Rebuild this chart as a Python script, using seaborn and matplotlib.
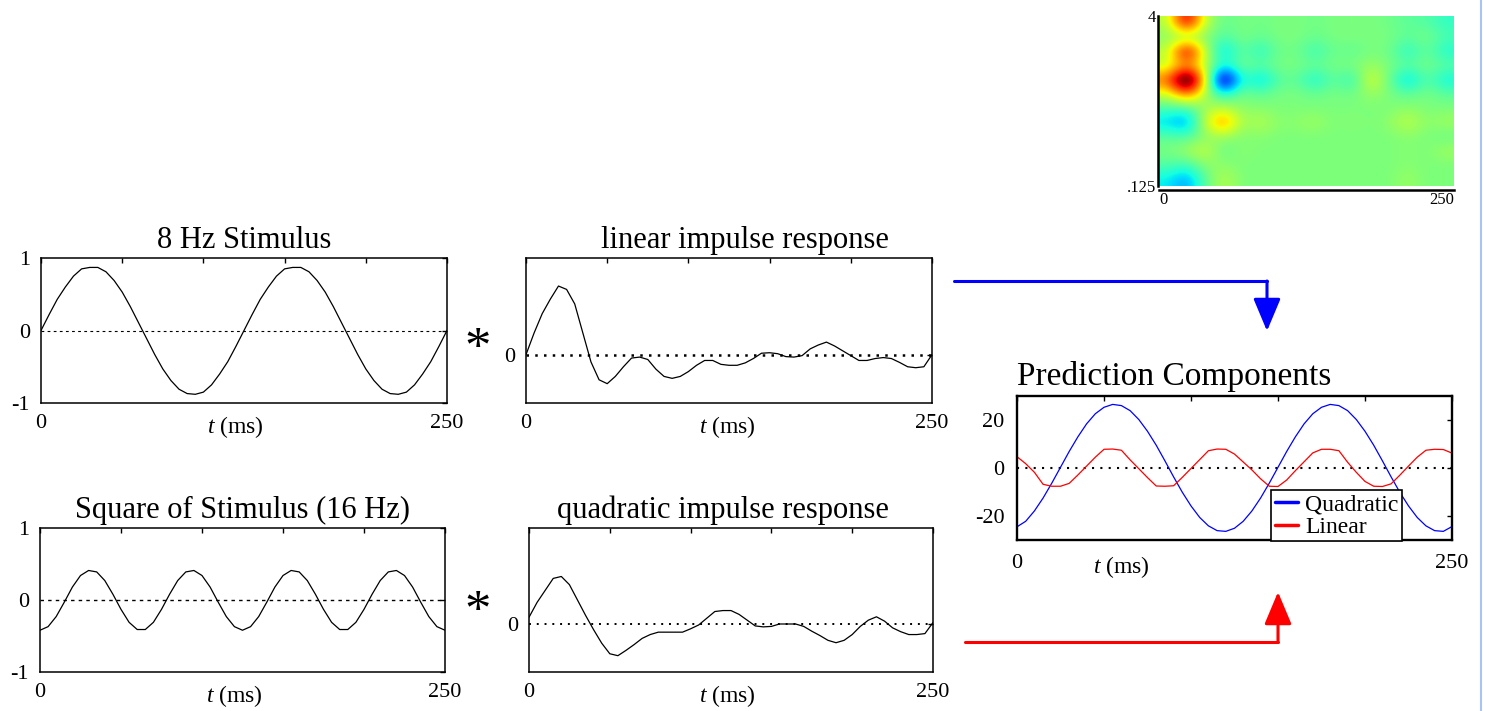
import numpy as np
import matplotlib
matplotlib.use("Agg")
import matplotlib.pyplot as plt
import seaborn as sns
from matplotlib.patches import FancyArrowPatch
from matplotlib.lines import Line2D

# ---------------- data ----------------
t_ms = np.arange(0, 251, 5)

stim_8hz = [0.00, 0.22, 0.43, 0.60, 0.75, 0.85, 0.87, 0.87, 0.81, 0.69, 0.53, 0.33, 0.11,
            -0.11, -0.33, -0.53, -0.69, -0.81, -0.87, -0.88, -0.85, -0.75, -0.60, -0.43, -0.22,
            0.00, 0.22, 0.43, 0.60, 0.75, 0.85, 0.87, 0.87, 0.81, 0.69, 0.53, 0.33, 0.11,
            -0.11, -0.33, -0.53, -0.69, -0.81, -0.87, -0.88, -0.85, -0.75, -0.60, -0.43, -0.22, 0.00]

stim_sq = [-0.42, -0.37, -0.23, -0.03, 0.18, 0.34, 0.41, 0.39, 0.27, 0.08, -0.13, -0.31, -0.41,
           -0.41, -0.31, -0.13, 0.08, 0.27, 0.39, 0.41, 0.34, 0.18, -0.03, -0.23, -0.37,
           -0.42, -0.37, -0.23, -0.03, 0.18, 0.34, 0.41, 0.39, 0.27, 0.08, -0.13, -0.31, -0.41,
           -0.41, -0.31, -0.13, 0.08, 0.27, 0.39, 0.41, 0.34, 0.18, -0.03, -0.23, -0.37, -0.42]

lin_irf = [0.00, 0.45, 0.85, 1.15, 1.42, 1.35, 1.05, 0.45, -0.15, -0.52, -0.60, -0.45, -0.25,
           -0.07, -0.05, -0.10, -0.30, -0.45, -0.49, -0.45, -0.35, -0.22, -0.12, -0.12, -0.20,
           -0.22, -0.22, -0.17, -0.08, 0.03, 0.04, 0.02, -0.04, -0.05, -0.02, 0.12, 0.20, 0.26,
           0.18, 0.08, -0.02, -0.12, -0.12, -0.08, -0.06, -0.08, -0.16, -0.25, -0.27, -0.25, 0.00]

quad_irf = [0.14, 0.45, 0.70, 0.95, 0.99, 0.82, 0.50, 0.18, -0.12, -0.40, -0.62, -0.66, -0.55,
            -0.43, -0.30, -0.22, -0.17, -0.17, -0.17, -0.17, -0.10, -0.02, 0.12, 0.26, 0.28,
            0.28, 0.20, 0.08, -0.04, -0.06, -0.05, 0.00, 0.00, 0.00, -0.05, -0.15, -0.24, -0.34,
            -0.39, -0.34, -0.22, -0.05, 0.08, 0.15, 0.06, -0.08, -0.16, -0.22, -0.22, -0.20, 0.03]

pred_quadratic = [-24.5, -22.2, -17.9, -12.5, -6.3, 0.3, 6.9, 13.0, 18.4, 22.6, 25.3, 26.5, 26.0,
                  23.9, 20.2, 15.3, 9.5, 3.0, -3.7, -10.1, -15.8, -20.6, -24.1, -26.1, -26.4,
                  -25.1, -22.2, -17.9, -12.5, -6.3, 0.3, 6.9, 13.0, 18.4, 22.6, 25.3, 26.5, 26.0,
                  23.9, 20.2, 15.3, 9.5, 3.0, -3.7, -10.1, -15.8, -20.6, -24.1, -26.1, -26.4, -24.4]

pred_linear = [4.7, 1.8, -1.8, -6.8, -7.6, -7.6, -6.4, -2.9, 0.8, 4.5,
               7.8, 7.9, 7.4, 3.4, -0.3, -4.0, -7.5, -7.6, -7.4, -3.9,
               -0.2, 3.5, 7.2, 7.9, 7.8, 5.8, 2.5, -0.8, -4.5, -7.6,
               -7.7, -5.0, -1.1, 2.6, 6.3, 7.8, 7.8, 7.2, 2.4, -1.8,
               -5.6, -7.6, -7.7, -6.6, -3.0, 0.8, 4.5, 7.4, 7.8, 7.7, 6.2]

# kernel map (12 rows: top = 4, bottom = .125 ; 16 columns span 0..250 ms)
kernel_map = np.array([
    [0.08, 0.65, 0.10, -0.04, 0.00, -0.02, 0.00, 0.00, -0.02, 0.00, 0.00, 0.00, -0.02, -0.05, -0.06, -0.12],
    [0.02, 0.00, 0.02, -0.08, 0.00, -0.04, 0.00, 0.00, -0.03, 0.00, 0.00, 0.00, 0.00, -0.05, 0.00, -0.08],
    [0.10, 0.70, 0.12, -0.25, -0.03, -0.15, -0.02, -0.02, -0.12, -0.02, -0.05, 0.00, -0.02, -0.15, -0.03, -0.15],
    [0.10, 0.30, 0.10, -0.15, 0.00, -0.05, 0.00, 0.00, -0.03, 0.00, 0.00, 0.05, 0.00, -0.05, 0.00, -0.05],
    [0.40, 1.00, 0.25, -0.80, -0.10, -0.25, -0.06, -0.05, -0.18, -0.03, -0.15, 0.18, -0.03, -0.25, -0.05, -0.18],
    [0.12, 0.40, 0.08, -0.15, 0.00, -0.05, 0.00, 0.00, -0.03, 0.00, -0.02, 0.05, 0.00, -0.05, 0.00, -0.05],
    [-0.08, -0.10, 0.05, 0.10, 0.02, 0.02, 0.00, 0.00, 0.00, 0.00, 0.00, 0.00, 0.00, 0.03, 0.00, 0.00],
    [-0.22, -0.32, 0.12, 0.40, 0.05, 0.10, 0.02, 0.03, 0.06, 0.00, 0.02, 0.00, 0.03, 0.12, 0.02, 0.06],
    [-0.05, -0.08, 0.02, 0.05, 0.00, 0.02, 0.00, 0.00, 0.00, 0.00, 0.00, 0.00, 0.00, 0.02, 0.00, -0.03],
    [0.00, 0.06, 0.14, -0.05, 0.03, 0.00, 0.00, 0.00, 0.00, 0.00, 0.00, 0.00, 0.00, 0.02, 0.00, 0.06],
    [-0.06, -0.10, 0.02, 0.03, 0.00, 0.00, 0.00, 0.00, 0.00, 0.00, 0.00, 0.00, 0.00, 0.02, 0.00, 0.00],
    [-0.18, -0.30, -0.05, 0.10, 0.00, 0.00, 0.00, 0.00, 0.00, 0.00, 0.00, 0.00, 0.00, 0.05, 0.00, 0.00],
])

x_ticks = [0, 50, 100, 150, 200, 250]
x_ticklabels = ["0", "", "", "", "", "250"]
map_ylabels = [".125", "4"]
map_xlabels = ["0", "250"]

# ---------------- styling ----------------
sns.set_style("white")
plt.rcParams["font.family"] = ["Liberation Serif", "DejaVu Serif"]
plt.rcParams["mathtext.fontset"] = "custom"
plt.rcParams["mathtext.it"] = "Liberation Serif:italic"
plt.rcParams["mathtext.rm"] = "Liberation Serif"
for key in ["text.color", "axes.labelcolor", "xtick.color", "ytick.color",
            "xtick.labelcolor", "ytick.labelcolor", "axes.edgecolor"]:
    plt.rcParams[key] = "black"

W, H = 1487, 711
fig = plt.figure(figsize=(W / 100, H / 100), dpi=100)


def rect(x0, y0, x1, y1):
    return [x0 / W, 1 - y1 / H, (x1 - x0) / W, (y1 - y0) / H]


def fpt(x, y):
    return (x / W, 1 - y / H)


def panel(r, frame_lw=1.1):
    ax = fig.add_axes(rect(*r))
    for s in ax.spines.values():
        s.set_visible(True)
        s.set_color("k")
        s.set_linewidth(frame_lw)
    ax.set_xlim(0, 250)
    ax.set_xticks(x_ticks)
    ax.set_xticklabels(x_ticklabels)
    ax.tick_params(direction="in", top=True, right=True, length=3.6, width=1.0,
                   labelsize=16, colors="k")
    ax.tick_params(axis="y", pad=8)
    ax.tick_params(axis="x", pad=8)
    ax.set_ylabel("")
    return ax


# Panel 1: 8 Hz stimulus
ax1 = panel((41, 258, 447, 403))
sns.lineplot(x=t_ms, y=stim_8hz, ax=ax1, color="k", linewidth=0.9)
ax1.axhline(0, color="k", lw=0.8, ls=(0, (2.5, 3)))
ax1.set_ylim(-1, 1)
ax1.set_yticks([-1, 0, 1])
ax1.set_yticklabels(["-1", "0", "1"])
ax1.set_title("8 Hz Stimulus", fontsize=22, pad=7)
ax1.set_xlabel("$t$ (ms)", fontsize=17)
ax1.xaxis.set_label_coords(0.48, -0.075)

# Panel 2: linear impulse response
ax2 = panel((526, 258, 932, 403))
sns.lineplot(x=t_ms, y=lin_irf, ax=ax2, color="k", linewidth=0.9)
ax2.axhline(0, color="k", lw=1.8, ls=(0, (1, 2.5)))
ax2.set_ylim(-1, 2)
ax2.set_yticks([0])
ax2.set_yticklabels(["0"])
ax2.set_title("linear impulse response", fontsize=22, pad=7)
ax2.title.set_x(0.539)
ax2.set_xlabel("$t$ (ms)", fontsize=17)
ax2.xaxis.set_label_coords(0.495, -0.075)

# Panel 3: square of stimulus
ax3 = panel((40, 528, 445, 672))
sns.lineplot(x=t_ms, y=stim_sq, ax=ax3, color="k", linewidth=0.9)
ax3.axhline(0, color="k", lw=1.0, ls=(0, (2.5, 3)))
ax3.set_ylim(-1, 1)
ax3.set_yticks([-1, 0, 1])
ax3.set_yticklabels(["-1", "0", "1"])
ax3.set_title("Square of Stimulus (16 Hz)", fontsize=22, pad=7)
ax3.set_xlabel("$t$ (ms)", fontsize=17)
ax3.xaxis.set_label_coords(0.48, -0.075)

# Panel 4: quadratic impulse response
ax4 = panel((529, 528, 933, 672))
sns.lineplot(x=t_ms, y=quad_irf, ax=ax4, color="k", linewidth=0.9)
ax4.axhline(0, color="k", lw=1.4, ls=(0, (1, 3)))
ax4.set_ylim(-1, 2)
ax4.set_yticks([0])
ax4.set_yticklabels(["0"])
ax4.set_title("quadratic impulse response", fontsize=22, pad=7)
ax4.title.set_x(0.48)
ax4.set_xlabel("$t$ (ms)", fontsize=17)
ax4.xaxis.set_label_coords(0.49, -0.075)

# Panel 5: prediction components
ax5 = panel((1017, 396, 1452, 540), frame_lw=1.7)
sns.lineplot(x=t_ms, y=pred_quadratic, ax=ax5, color="#0000ff", linewidth=0.9, label="Quadratic")
sns.lineplot(x=t_ms, y=pred_linear, ax=ax5, color="#ff0000", linewidth=0.9, label="Linear")
ax5.axhline(0, color="k", lw=1.5, ls=(0, (1, 3)), zorder=1)
ax5.set_ylim(-30, 30)
ax5.set_yticks([-20, 0, 20])
ax5.set_yticklabels(["-20", "0", "20"])
ax5.tick_params(axis="y", pad=9)
ax5.tick_params(axis="x", pad=10)
ax5.set_title("Prediction Components", fontsize=24, loc="left", pad=8)
ax5.set_xlabel("$t$ (ms)", fontsize=17)
ax5.xaxis.set_label_coords(0.24, -0.1)
leg = ax5.legend(loc="lower left", bbox_to_anchor=(0.584, -0.01), fontsize=17,
                 frameon=True, fancybox=False, edgecolor="k", framealpha=1,
                 borderpad=0.15, labelspacing=0.05, handlelength=1.0,
                 handletextpad=0.3, borderaxespad=0.0)
leg.get_frame().set_linewidth(1.2)
for ln in leg.get_lines():
    ln.set_linewidth(2.5)

# Kernel map (top right)
ax6 = fig.add_axes(rect(1159, 16, 1454, 186))
ax6.imshow(kernel_map, cmap="jet", vmin=-0.65, vmax=0.65, interpolation="bicubic",
           extent=[0, 250, -3, 2], aspect="auto")
ax6.set_xlim(0, 250)
ax6.set_ylim(-3, 2)
for side in ["top", "right"]:
    ax6.spines[side].set_visible(False)
for side in ["left", "bottom"]:
    ax6.spines[side].set_visible(True)
    ax6.spines[side].set_color("k")
    ax6.spines[side].set_linewidth(1.8)
ax6.spines["bottom"].set_position(("outward", 3))
ax6.spines["left"].set_position(("outward", 1))
ax6.set_xticks([0, 250])
ax6.set_xticklabels(map_xlabels)
ax6.set_yticks([-3, 2])
ax6.set_yticklabels(map_ylabels)
ax6.tick_params(direction="in", length=6, width=1.8, labelsize=12, pad=1, colors="k")
xl = ax6.get_xticklabels()
xl[0].set_ha("left")
xl[1].set_ha("right")

# convolution signs
fig.text(*fpt(478, 350), "*", fontsize=38, ha="center", va="center")
fig.text(*fpt(478, 613), "*", fontsize=38, ha="center", va="center")

# connecting arrows
fig.add_artist(Line2D([954 / W, 1267 / W], [1 - 281 / H, 1 - 281 / H], color="#0000ff", lw=2.2))
fig.add_artist(FancyArrowPatch(fpt(1267, 281), fpt(1267, 331), transform=fig.transFigure,
                               arrowstyle="-|>,head_length=1.0,head_width=0.42",
                               mutation_scale=20, color="#0000ff", lw=2.2,
                               shrinkA=0, shrinkB=0))
fig.add_artist(Line2D([965 / W, 1278 / W], [1 - 642 / H, 1 - 642 / H], color="#ff0000", lw=2.2))
fig.add_artist(FancyArrowPatch(fpt(1278, 642), fpt(1278, 592), transform=fig.transFigure,
                               arrowstyle="-|>,head_length=1.0,head_width=0.42",
                               mutation_scale=20, color="#ff0000", lw=2.2,
                               shrinkA=0, shrinkB=0))

# slide border on the right
fig.add_artist(Line2D([1481 / W, 1481 / W], [0, 1], color="#a9c3f5", lw=1.5))

fig.savefig("out.png", dpi=100)
